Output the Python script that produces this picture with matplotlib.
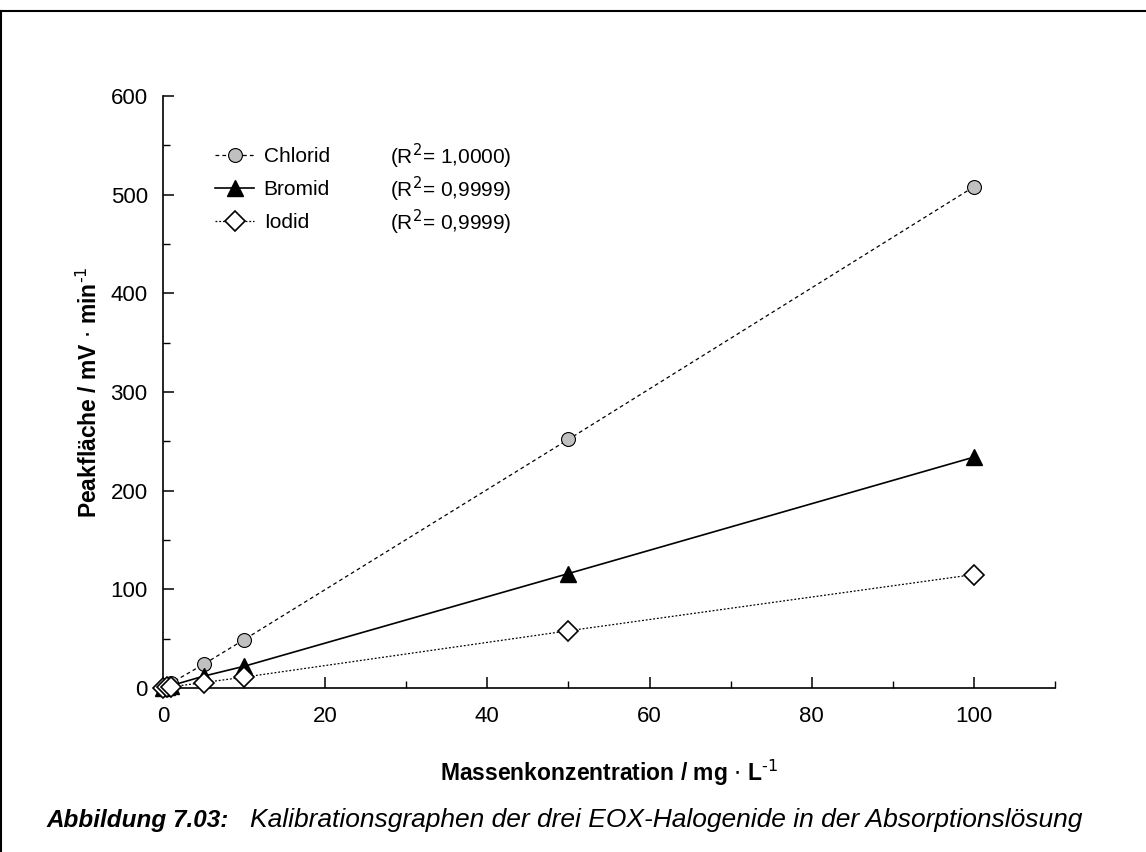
import matplotlib
matplotlib.use("Agg")
import matplotlib.pyplot as plt
from matplotlib.lines import Line2D
from matplotlib.ticker import MultipleLocator

plt.rcParams['font.family'] = ['Liberation Sans', 'DejaVu Sans']

# concentrations in mg/L
conc = [0, 0.5, 1, 5, 10, 50, 100]
chlorid = [0, 2.5, 5, 24, 49, 252, 508]
bromid = [0, 1.2, 2.4, 12, 22, 116, 234]
iodid = [0, 0.6, 1.2, 5.5, 11, 58, 115]
r2_labels = ["(R$^2$= 1,0000)", "(R$^2$= 0,9999)", "(R$^2$= 0,9999)"]

W, H = 1146, 852
fig = plt.figure(figsize=(W / 100, H / 100), dpi=100)
ax = fig.add_axes([163 / W, 1 - 688 / H, 892 / W, 592 / H])

ax.plot(conc, chlorid, linestyle=(0, (3, 2.5)), color='black', lw=0.9,
        marker='o', ms=10, mfc='#c0c0c0', mec='black', mew=0.8,
        label='Chlorid', clip_on=False, zorder=3)
ax.plot(conc, bromid, linestyle='-', color='black', lw=1.2,
        marker='^', ms=11, mfc='black', mec='black',
        label='Bromid', clip_on=False, zorder=3)
ax.plot(conc, iodid, linestyle=(0, (1.5, 1.5)), color='black', lw=0.9,
        marker='D', ms=10, mfc='white', mec='black', mew=1.2,
        label='Iodid', clip_on=False, zorder=3)

ax.set_xlim(0, 110)
ax.set_ylim(0, 600)
ax.xaxis.set_major_locator(MultipleLocator(20))
ax.xaxis.set_minor_locator(MultipleLocator(10))
ax.yaxis.set_major_locator(MultipleLocator(100))
ax.yaxis.set_minor_locator(MultipleLocator(50))
ax.spines['top'].set_visible(False)
ax.spines['right'].set_visible(False)
for sp in ('left', 'bottom'):
    ax.spines[sp].set_linewidth(1.2)
ax.tick_params(which='major', direction='in', length=8, width=1.1, labelsize=16)
ax.tick_params(which='minor', direction='in', length=5, width=1.0)
ax.tick_params(axis='x', which='major', pad=13)
ax.tick_params(axis='y', which='major', pad=11)

ax.set_xlabel('Massenkonzentration / mg $\\cdot$ L$^{\\text{-1}}$', fontsize=16.5,
              fontweight='bold', labelpad=22)
ax.set_ylabel('Peakfläche / mV $\\cdot$ min$^{\\text{-1}}$', fontsize=16.5,
              fontweight='bold', labelpad=6)

leg = ax.legend(loc='upper left', bbox_to_anchor=(0.058, 0.914), frameon=False,
                fontsize=15, handlelength=1.9, labelspacing=0.68, handletextpad=0.45,
                borderpad=0, borderaxespad=0)

# R² values aligned with legend rows
fig.canvas.draw()
inv = fig.transFigure.inverted()
for t, r2 in zip(leg.get_texts(), r2_labels):
    bb = t.get_window_extent()
    yc = inv.transform((0, (bb.y0 + bb.y1) / 2))[1]
    fig.text(390 / W, yc, r2, fontsize=15, va='center', ha='left')

# caption
fig.text(47 / W, 1 - 820 / H, 'Abbildung 7.03:', fontsize=17.5, fontweight='bold',
         style='italic', va='center')
fig.text(250 / W, 1 - 820 / H,
         'Kalibrationsgraphen der drei EOX-Halogenide in der Absorptionslösung',
         fontsize=19, style='italic', va='center')

# frame lines (top and left)
fig.add_artist(Line2D([0, 1], [1 - 10.5 / H] * 2, transform=fig.transFigure,
                      color='black', lw=1.5))
fig.add_artist(Line2D([1.2 / W] * 2, [0, 1 - 10.5 / H], transform=fig.transFigure,
                      color='black', lw=1.5))

fig.savefig('out.png', dpi=100)
